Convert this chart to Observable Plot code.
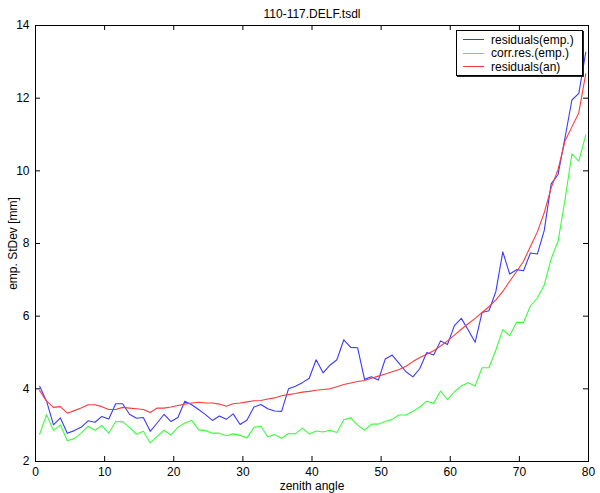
<!DOCTYPE html>
<html><head><meta charset="utf-8">
<script src="https://cdn.jsdelivr.net/npm/d3@7"></script>
<script src="https://cdn.jsdelivr.net/npm/@observablehq/plot@0.6"></script>
<style>
body{margin:0;background:#fff}
#wrap{position:relative;width:600px;height:493px;font-family:"Liberation Sans",Arial,Helvetica,sans-serif}
#legend{position:absolute;left:456px;top:30px;width:125px;height:44px;border:1px solid #000;background:#fff;box-shadow:1px 1px 0 #222;font-size:12px;color:#000}
.row{position:absolute;left:0;height:14px;display:flex;align-items:center;white-space:nowrap}
.sw{width:21px;height:0;border-top:1px solid;margin-left:6px;margin-right:7px}
</style>
</head><body>
<div id="wrap"><div id="legend"></div></div>
<script>
const title = "110-117.DELF.tsdl";
const xLabel = "zenith angle";
const yLabel = "emp. StDev [mm]";
const xTicks = [0, 10, 20, 30, 40, 50, 60, 70, 80];
const yTicks = [2, 4, 6, 8, 10, 12, 14];
const seriesNames = ["residuals(emp.)", "corr.res.(emp.)", "residuals(an)"];
const seriesColors = ["#3a3aff", "#3aff3a", "#ff3a3a"];

const zenith = [0.6,1.6,2.6,3.6,4.6,5.6,6.6,7.6,8.6,9.6,10.6,11.6,12.6,13.6,14.6,15.6,16.6,17.6,18.6,19.6,
20.6,21.6,22.6,23.6,24.6,25.6,26.6,27.6,28.6,29.6,30.6,31.6,32.6,33.6,34.6,35.6,36.6,37.6,38.6,39.6,
40.6,41.6,42.6,43.6,44.6,45.6,46.6,47.6,48.6,49.6,50.6,51.6,52.6,53.6,54.6,55.6,56.6,57.6,58.6,59.6,
60.6,61.6,62.6,63.6,64.6,65.6,66.6,67.6,68.6,69.6,70.6,71.6,72.6,73.6,74.6,75.6,76.6,77.6,78.6,79.6];

const residualsEmp = [4.07,3.66,3.01,3.20,2.78,2.85,2.94,3.12,3.08,3.24,3.17,3.59,3.59,3.30,3.19,3.21,2.83,3.06,3.30,3.10,
3.21,3.66,3.56,3.43,3.29,3.13,3.25,3.16,3.31,3.02,3.14,3.50,3.57,3.45,3.39,3.38,4.00,4.07,4.17,4.29,
4.80,4.44,4.65,4.80,5.35,5.14,5.13,4.26,4.33,4.24,4.82,4.93,4.70,4.47,4.33,4.56,5.00,4.93,5.32,5.22,
5.74,5.94,5.62,5.28,6.10,6.15,6.68,7.77,7.16,7.28,7.25,7.74,7.71,8.36,9.64,9.90,10.91,11.95,12.13,13.26];

const corrResEmp = [2.75,3.29,2.85,3.01,2.57,2.63,2.78,2.97,2.86,2.99,2.78,3.10,3.09,2.94,2.75,2.83,2.51,2.69,2.86,2.73,
2.94,3.06,3.13,2.87,2.85,2.78,2.78,2.71,2.76,2.72,2.65,2.94,2.97,2.68,2.74,2.64,2.77,2.76,2.92,2.76,
2.84,2.81,2.86,2.80,3.15,3.20,3.00,2.86,3.03,3.03,3.10,3.16,3.28,3.28,3.38,3.50,3.66,3.60,3.94,3.70,
3.92,4.08,4.17,4.08,4.58,4.58,5.07,5.63,5.46,5.83,5.83,6.28,6.50,6.86,7.58,8.06,9.20,10.47,10.27,10.98];

const residualsAn = [3.95,3.66,3.49,3.51,3.33,3.40,3.47,3.56,3.56,3.51,3.43,3.43,3.49,3.47,3.45,3.43,3.35,3.47,3.47,3.50,
3.54,3.58,3.61,3.63,3.61,3.61,3.58,3.52,3.59,3.61,3.64,3.67,3.68,3.72,3.75,3.81,3.84,3.87,3.91,3.93,
3.96,3.98,4.00,4.06,4.12,4.16,4.20,4.23,4.29,4.35,4.41,4.47,4.53,4.62,4.75,4.86,4.95,5.05,5.18,5.32,
5.48,5.64,5.79,5.94,6.10,6.26,6.45,6.68,6.96,7.23,7.51,7.92,8.32,8.85,9.53,10.04,10.82,11.21,11.60,12.67];

const seriesValues = [residualsEmp, corrResEmp, residualsAn];
const table = seriesNames.flatMap((name, s) => zenith.map((z, i) => ({z, v: seriesValues[s][i], s: name})));

const W = 600, H = 493, mL = 35, mR = 12, mT = 25, mB = 32, tick = 5;
const frameW = W - mL - mR, frameH = H - mT - mB;

const chart = Plot.plot({
  width: W,
  height: H,
  marginLeft: mL,
  marginRight: mR,
  marginTop: mT,
  marginBottom: mB,
  style: {fontFamily: '"Liberation Sans", Arial, Helvetica, sans-serif', fontSize: "12px", background: "#fff", color: "#000"},
  x: {domain: [0, 80]},
  y: {domain: [2, 14]},
  color: {domain: seriesNames, range: seriesColors},
  marks: [
    Plot.line(table, {x: "z", y: "v", z: "s", stroke: "s", strokeWidth: 1.1}),
    Plot.tickX(xTicks, {x: d => d, insetTop: frameH - tick, stroke: "#000"}),
    Plot.tickX(xTicks, {x: d => d, insetBottom: frameH - tick, stroke: "#000"}),
    Plot.tickY(yTicks, {y: d => d, insetRight: frameW - tick, stroke: "#000"}),
    Plot.tickY(yTicks, {y: d => d, insetLeft: frameW - tick, stroke: "#000"}),
    Plot.frame({stroke: "#000", strokeWidth: 1}),
    Plot.axisX(xTicks, {anchor: "bottom", tickSize: 0, tickPadding: 6, fontSize: 12, label: xLabel, labelAnchor: "center", labelOffset: 28, labelArrow: "none"}),
    Plot.axisY(yTicks, {anchor: "left", tickSize: 0, tickPadding: 6, fontSize: 12, label: yLabel, labelAnchor: "center", labelOffset: 27, labelArrow: "none"}),
    Plot.text([title], {frameAnchor: "top", dy: -16, fontSize: 12, fill: "#000"})
  ]
});
document.getElementById("wrap").prepend(chart);

const legend = document.getElementById("legend");
seriesNames.forEach((name, i) => {
  const row = document.createElement("div");
  row.className = "row";
  row.style.top = (1.5 + i * 13.7) + "px";
  const sw = document.createElement("span");
  sw.className = "sw";
  sw.style.borderTopColor = seriesColors[i];
  const t = document.createElement("span");
  t.textContent = name;
  row.append(sw, t);
  legend.append(row);
});
</script>
</body></html>
